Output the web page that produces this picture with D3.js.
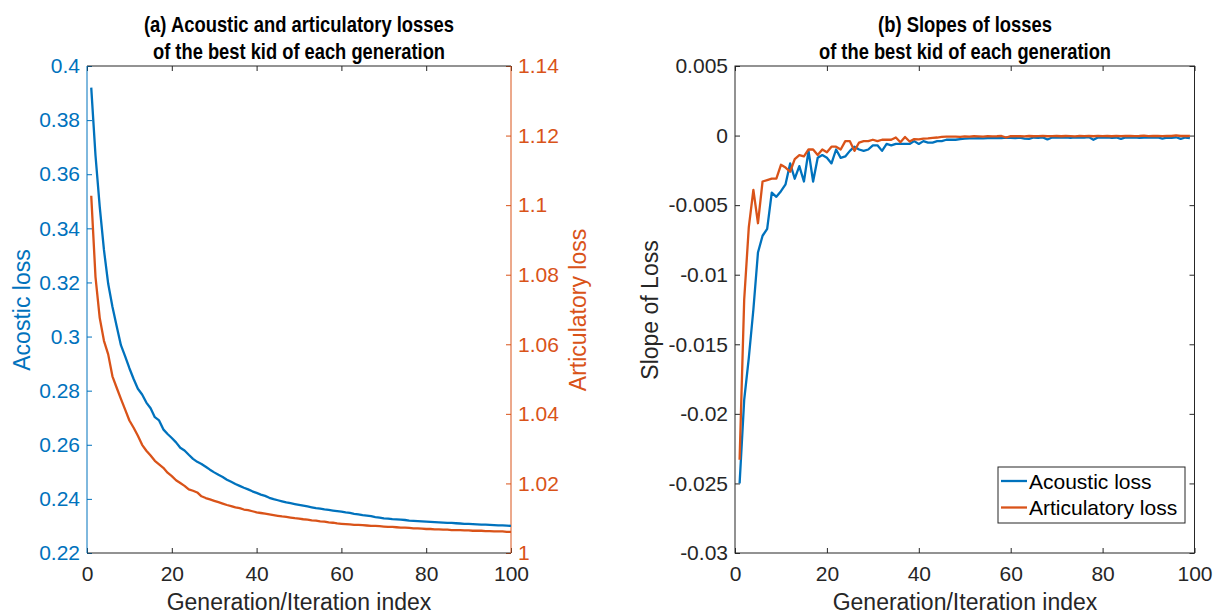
<!DOCTYPE html>
<html><head><meta charset="utf-8">
<script src="https://cdn.jsdelivr.net/npm/d3@7"></script>
<style>body{margin:0;background:#fff}svg{display:block}text{font-family:"Liberation Sans",Arial,sans-serif}</style>
</head><body><svg id="c" width="1219" height="615"></svg>
<script>
const generations = d3.range(1, 101);
const slopeGenerations = d3.range(1, 100);

const acousticLoss = [
0.392,0.367,0.348,0.332,0.3195,0.311,0.3038,0.2968,0.2927,0.2883,
0.2843,0.2807,0.2786,0.2756,0.2735,0.2702,0.2690,0.2657,0.2640,0.2625,
0.2609,0.2589,0.2579,0.2563,0.2548,0.2537,0.2529,0.2519,0.2508,0.2498,
0.2489,0.2481,0.2471,0.2463,0.2455,0.2448,0.2441,0.2435,0.2428,0.2422,
0.2416,0.2411,0.2404,0.2399,0.2395,0.2391,0.2387,0.2384,0.2381,0.2378,
0.2375,0.2372,0.2369,0.2366,0.2364,0.2361,0.2359,0.2357,0.2355,0.2353,
0.2350,0.2348,0.2345,0.2343,0.2340,0.2338,0.2336,0.2333,0.2331,0.2328,
0.2327,0.2325,0.2324,0.2323,0.2322,0.2320,0.2319,0.2318,0.2317,0.2316,
0.2315,0.2314,0.2313,0.2312,0.2311,0.2311,0.2310,0.2309,0.2308,0.2308,
0.2307,0.2306,0.2305,0.2305,0.2304,0.2303,0.2302,0.2302,0.2301,0.2300];

const articulatoryLoss = [
1.1027,1.0794,1.0676,1.0610,1.0571,1.0508,1.0475,1.0443,1.0412,1.0381,
1.0360,1.0337,1.0311,1.0294,1.0280,1.0265,1.0255,1.0245,1.0231,1.0221,
1.0209,1.0201,1.0193,1.0183,1.0179,1.0174,1.0163,1.0158,1.0154,1.0150,
1.0146,1.0142,1.0138,1.0135,1.0131,1.0129,1.0125,1.0123,1.0120,1.0117,
1.0115,1.0113,1.0111,1.0109,1.0107,1.0105,1.0104,1.0102,1.0100,1.0099,
1.0097,1.0096,1.0094,1.0093,1.0091,1.0090,1.0088,1.0087,1.0085,1.0084,
1.0083,1.0082,1.0081,1.0081,1.0080,1.0079,1.0078,1.0078,1.0077,1.0076,
1.0075,1.0075,1.0074,1.0073,1.0073,1.0072,1.0071,1.0071,1.0070,1.0069,
1.0069,1.0068,1.0068,1.0067,1.0067,1.0066,1.0066,1.0066,1.0065,1.0065,
1.0064,1.0064,1.0064,1.0063,1.0063,1.0062,1.0062,1.0062,1.0061,1.0061];

const acousticSlope = [
-0.0250,-0.0190,-0.0160,-0.0125,-0.0084,-0.0072,-0.0067,-0.0041,-0.0044,-0.0040,
-0.0035,-0.0020,-0.0031,-0.0022,-0.0033,-0.0011,-0.0033,-0.0016,-0.0014,-0.0016,
-0.0020,-0.0010,-0.0016,-0.0015,-0.0011,-0.0008,-0.0010,-0.0011,-0.0010,-0.0007,
-0.0007,-0.0011,-0.0006,-0.0007,-0.0006,-0.0006,-0.0006,-0.0006,-0.0004,-0.0006,
-0.0004,-0.0005,-0.0005,-0.0004,-0.0004,-0.0003,-0.0003,-0.0003,-0.00025,-0.00022,
-0.0002,-0.0002,-0.00019,-0.0002,-0.00018,-0.00019,-0.00016,-0.00018,-0.00014,-0.00016,
-0.00018,-0.00015,-0.00022,-0.00024,-0.00014,-0.00016,-0.00013,-0.00028,-0.00014,-0.00012,
-0.00015,-0.00013,-0.00016,-0.00012,-0.00015,-0.00014,-0.00011,-0.00030,-0.00013,-0.00015,
-0.00012,-0.00016,-0.00014,-0.00024,-0.00013,-0.00015,-0.00012,-0.00016,-0.00014,-0.00012,
-0.00015,-0.00013,-0.00022,-0.00014,-0.00016,-0.00012,-0.00024,-0.00014,-0.00018];

const articulatorySlope = [
-0.0233,-0.0118,-0.0066,-0.0039,-0.0063,-0.0033,-0.0032,-0.0031,-0.0031,-0.0021,
-0.0023,-0.0026,-0.0017,-0.0014,-0.0015,-0.0010,-0.0010,-0.0014,-0.0010,-0.0012,
-0.0008,-0.0008,-0.0010,-0.0004,-0.0004,-0.0011,-0.0005,-0.0004,-0.0004,-0.0003,
-0.0004,-0.0003,-0.0003,-0.0003,-0.00014,-0.00048,-0.0001,-0.00043,-0.00025,-0.00028,
-0.00022,-0.0002,-0.00016,-0.00014,-0.0001,-0.00007,-0.00008,-0.00007,-0.00009,-0.00006,
-0.00007,-0.00005,-0.00006,-0.00008,-0.00004,-0.00006,-0.00005,-0.00003,-0.00014,-0.00004,
-0.00005,-0.00004,-0.00006,-0.00003,-0.00005,-0.00004,-0.00002,-0.00005,-0.00004,-0.00003,
-0.00005,-0.00003,-0.00004,-0.00006,-0.00002,-0.00004,-0.00003,-0.00005,-0.00002,-0.00004,
-0.00003,-0.00005,-0.00002,-0.00004,-0.00003,-0.00002,-0.00004,-0.00003,-0.00001,-0.00004,
-0.00003,-0.00002,-0.00004,-0.00002,-0.00003,0.00001,-0.00003,-0.00002,-0.00003];

const xTicks = [0, 20, 40, 60, 80, 100];
const acousticTicks = [0.22,0.24,0.26,0.28,0.3,0.32,0.34,0.36,0.38,0.4];
const articulatoryTicks = [1,1.02,1.04,1.06,1.08,1.1,1.12,1.14];
const slopeTicks = [-0.03,-0.025,-0.02,-0.015,-0.01,-0.005,0,0.005];
const seriesNames = ["Acoustic loss", "Articulatory loss"];

const BLUE = "#0072BD", ORANGE = "#D95319", AX = "#262626";
const FS = 21, LFS = 23;
const fmt = v => String(+v.toFixed(4));

const svg = d3.select("#c");
const yTop = 66, yBot = 553;

function styleAxis(g, color, showLabels) {
  g.select(".domain").remove();
  g.selectAll(".tick line").attr("stroke", color).attr("stroke-width", 1);
  g.selectAll(".tick text").attr("fill", color).style("font-size", FS + "px")
    .style("font-family", '"Liberation Sans",Arial,sans-serif');
  if (!showLabels) g.selectAll(".tick text").remove();
}

// ---------- Left plot ----------
const xL = d3.scaleLinear().domain([0,100]).range([87,511]);
const yA = d3.scaleLinear().domain([0.22,0.4]).range([yBot, yTop]);
const yB = d3.scaleLinear().domain([1,1.14]).range([yBot, yTop]);

svg.append("g").attr("transform",`translate(0,${yBot})`)
  .call(d3.axisBottom(xL).tickValues(xTicks).tickFormat(fmt).tickSizeInner(-5).tickSizeOuter(0).tickPadding(13))
  .call(g=>styleAxis(g, AX, true));
svg.append("g").attr("transform",`translate(0,${yTop})`)
  .call(d3.axisTop(xL).tickValues(xTicks).tickSizeInner(-5).tickSizeOuter(0))
  .call(g=>styleAxis(g, AX, false));
svg.append("g").attr("transform",`translate(87,0)`)
  .call(d3.axisLeft(yA).tickValues(acousticTicks).tickFormat(fmt).tickSizeInner(-5).tickSizeOuter(0).tickPadding(7))
  .call(g=>styleAxis(g, BLUE, true));
svg.append("g").attr("transform",`translate(511,0)`)
  .call(d3.axisRight(yB).tickValues(articulatoryTicks).tickFormat(fmt).tickSizeInner(-5).tickSizeOuter(0).tickPadding(7))
  .call(g=>styleAxis(g, ORANGE, true));

svg.append("line").attr("x1",87).attr("x2",511).attr("y1",yTop).attr("y2",yTop).attr("stroke",AX);
svg.append("line").attr("x1",87).attr("x2",511).attr("y1",yBot).attr("y2",yBot).attr("stroke",AX);
svg.append("line").attr("x1",87).attr("x2",87).attr("y1",yTop).attr("y2",yBot).attr("stroke",BLUE);
svg.append("line").attr("x1",511).attr("x2",511).attr("y1",yTop).attr("y2",yBot).attr("stroke",ORANGE);

svg.append("path").datum(generations.map((g,i)=>[g, acousticLoss[i]]))
  .attr("fill","none").attr("stroke",BLUE).attr("stroke-width",2.3).attr("stroke-linejoin","round")
  .attr("d", d3.line().x(d=>xL(d[0])).y(d=>yA(d[1])));
svg.append("path").datum(generations.map((g,i)=>[g, articulatoryLoss[i]]))
  .attr("fill","none").attr("stroke",ORANGE).attr("stroke-width",2.3).attr("stroke-linejoin","round")
  .attr("d", d3.line().x(d=>xL(d[0])).y(d=>yB(d[1])));

function title(cx, l1, w1, l2, w2) {
  svg.append("text").attr("x",cx).attr("y",32).attr("text-anchor","middle").attr("font-weight","bold")
    .style("font-size","21.5px").attr("textLength",w1).attr("lengthAdjust","spacingAndGlyphs").text(l1);
  svg.append("text").attr("x",cx).attr("y",59).attr("text-anchor","middle").attr("font-weight","bold")
    .style("font-size","21.5px").attr("textLength",w2).attr("lengthAdjust","spacingAndGlyphs").text(l2);
}
title(299, "(a) Acoustic and articulatory losses", 310, "of the best kid of each generation", 292);
title(965, "(b) Slopes of losses", 174, "of the best kid of each generation", 292);

svg.append("text").attr("x",299).attr("y",610).attr("text-anchor","middle").attr("fill",AX)
  .style("font-size",LFS+"px").text("Generation/Iteration index");
svg.append("text").attr("x",965).attr("y",610).attr("text-anchor","middle").attr("fill",AX)
  .style("font-size",LFS+"px").text("Generation/Iteration index");
svg.append("text").attr("transform","translate(30,310) rotate(-90)").attr("text-anchor","middle").attr("fill",BLUE)
  .style("font-size",LFS+"px").text("Acostic loss");
svg.append("text").attr("transform","translate(586,310) rotate(-90)").attr("text-anchor","middle").attr("fill",ORANGE)
  .style("font-size",LFS+"px").text("Articulatory loss");
svg.append("text").attr("transform","translate(658,310) rotate(-90)").attr("text-anchor","middle").attr("fill",AX)
  .style("font-size",LFS+"px").text("Slope of Loss");

// ---------- Right plot ----------
const xR = d3.scaleLinear().domain([0,100]).range([735,1194.5]);
const yS = d3.scaleLinear().domain([-0.03,0.005]).range([yBot, yTop]);

svg.append("g").attr("transform",`translate(0,${yBot})`)
  .call(d3.axisBottom(xR).tickValues(xTicks).tickFormat(fmt).tickSizeInner(-5).tickSizeOuter(0).tickPadding(13))
  .call(g=>styleAxis(g, AX, true));
svg.append("g").attr("transform",`translate(0,${yTop})`)
  .call(d3.axisTop(xR).tickValues(xTicks).tickSizeInner(-5).tickSizeOuter(0))
  .call(g=>styleAxis(g, AX, false));
svg.append("g").attr("transform",`translate(735,0)`)
  .call(d3.axisLeft(yS).tickValues(slopeTicks).tickFormat(fmt).tickSizeInner(-5).tickSizeOuter(0).tickPadding(7))
  .call(g=>styleAxis(g, AX, true));
svg.append("g").attr("transform",`translate(1194.5,0)`)
  .call(d3.axisRight(yS).tickValues(slopeTicks).tickSizeInner(-5).tickSizeOuter(0))
  .call(g=>styleAxis(g, AX, false));
svg.append("rect").attr("x",735).attr("y",yTop).attr("width",459.5).attr("height",yBot-yTop)
  .attr("fill","none").attr("stroke",AX);

svg.append("path").datum(slopeGenerations.map((g,i)=>[g, acousticSlope[i]]))
  .attr("fill","none").attr("stroke",BLUE).attr("stroke-width",2.3).attr("stroke-linejoin","round")
  .attr("d", d3.line().x(d=>xR(d[0])).y(d=>yS(d[1])));
svg.append("path").datum(slopeGenerations.map((g,i)=>[g, articulatorySlope[i]]))
  .attr("fill","none").attr("stroke",ORANGE).attr("stroke-width",2.3).attr("stroke-linejoin","round")
  .attr("d", d3.line().x(d=>xR(d[0])).y(d=>yS(d[1])));

const lg = svg.append("g");
lg.append("rect").attr("x",998).attr("y",467).attr("width",187).attr("height",56)
  .attr("fill","#fff").attr("stroke",AX).attr("stroke-width",1);
[BLUE, ORANGE].forEach((c,i)=>{
  const yy = 481 + i*26.5;
  lg.append("line").attr("x1",1001).attr("x2",1027).attr("y1",yy).attr("y2",yy).attr("stroke",c).attr("stroke-width",2.3);
  lg.append("text").attr("x",1029).attr("y",yy+7.5).style("font-size","21px").attr("fill","#000").text(seriesNames[i]);
});
</script></body></html>
